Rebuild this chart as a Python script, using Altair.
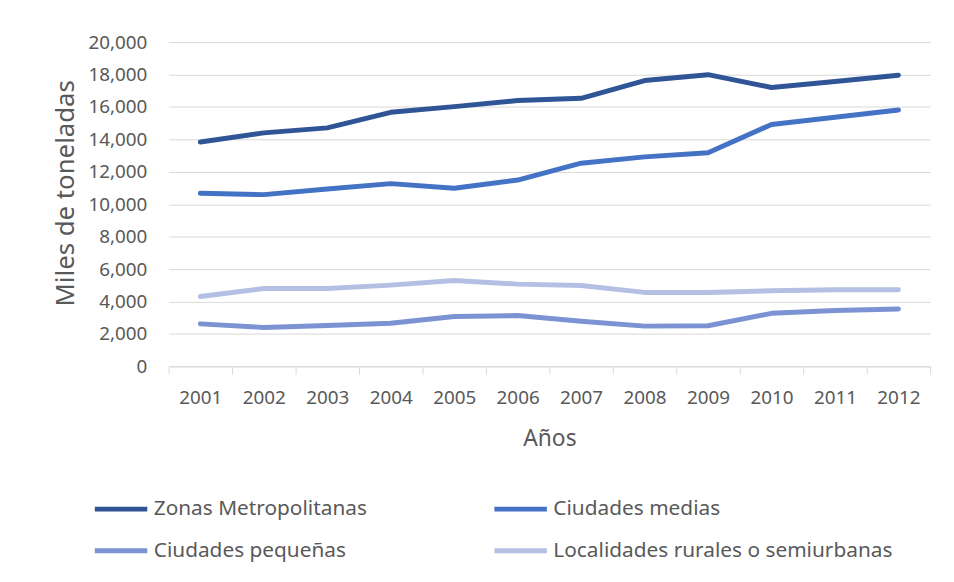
import altair as alt
import pandas as pd

years = [str(y) for y in range(2001, 2013)]
series = ["Zonas Metropolitanas", "Ciudades medias", "Ciudades pequeñas",
          "Localidades rurales o semiurbanas"]
zonas = [13835, 14400, 14710, 15670, 16020, 16400, 16530, 17630, 17990, 17200, 17570, 17960]
medias = [10670, 10590, 10940, 11270, 10980, 11490, 12530, 12920, 13180, 14920, 15360, 15810]
pequenas = [2620, 2400, 2520, 2660, 3070, 3130, 2780, 2480, 2500, 3270, 3440, 3540]
rurales = [4310, 4800, 4800, 5010, 5290, 5070, 4990, 4560, 4560, 4660, 4720, 4720]
colors = ["#2F5597", "#4472C4", "#7B93D3", "#B3C0E3"]
y_ticks = list(range(0, 20001, 2000))

rows = []
for name, vals in zip(series, [zonas, medias, pequenas, rurales]):
    for yr, v in zip(years, vals):
        rows.append({"year": yr, "series": name, "value": v})
df = pd.DataFrame(rows)

# legend fills column by column: order entries so rows read as in the reference
legend_order = [series[0], series[2], series[1], series[3]]
legend_colors = [colors[0], colors[2], colors[1], colors[3]]

FONT = "Noto Sans"
GRAY = "#595959"

chart = alt.Chart(df).mark_line(
    strokeWidth=5, strokeCap="round", strokeJoin="round"
).encode(
    x=alt.X("year:O",
            scale=alt.Scale(type="band", paddingInner=0, paddingOuter=0),
            axis=alt.Axis(title="Años", labelAngle=0, tickBand="extent", grid=False,
                          domainColor="#d9d9d9", tickColor="#d9d9d9", tickSize=8,
                          labelPadding=14, titlePadding=21, labelFontSize=19,
                          titleFontSize=23, titleFontWeight="normal",
                          labelColor=GRAY, titleColor=GRAY, labelFont=FONT, titleFont=FONT)),
    y=alt.Y("value:Q",
            scale=alt.Scale(domain=[0, 20000]),
            axis=alt.Axis(values=y_ticks, format=",.0f", title="Miles de toneladas",
                          domain=False, ticks=False, gridColor="#d9d9d9",
                          labelPadding=22, titlePadding=10, labelFontSize=19,
                          titleFontSize=26, titleFontWeight="normal", titleY=152,
                          labelColor=GRAY, titleColor=GRAY, labelFont=FONT, titleFont=FONT)),
    color=alt.Color("series:N", sort=legend_order,
                    scale=alt.Scale(domain=legend_order, range=legend_colors),
                    legend=alt.Legend(title=None, orient="none", legendX=-77, legendY=442,
                                      columns=2, symbolType="stroke", symbolStrokeWidth=5,
                                      symbolSize=2800, columnPadding=117, rowPadding=3,
                                      labelFontSize=21, labelLimit=500, labelColor=GRAY,
                                      labelFont=FONT, labelOffset=4))
).properties(
    width=768, height=327,
    autosize=alt.AutoSizeParams(type="none"),
    padding={"left": 162, "top": 32, "right": 16, "bottom": 200}
).configure_view(stroke=None)

chart.save("out.html", embed_options={"renderer": "svg", "actions": False})
